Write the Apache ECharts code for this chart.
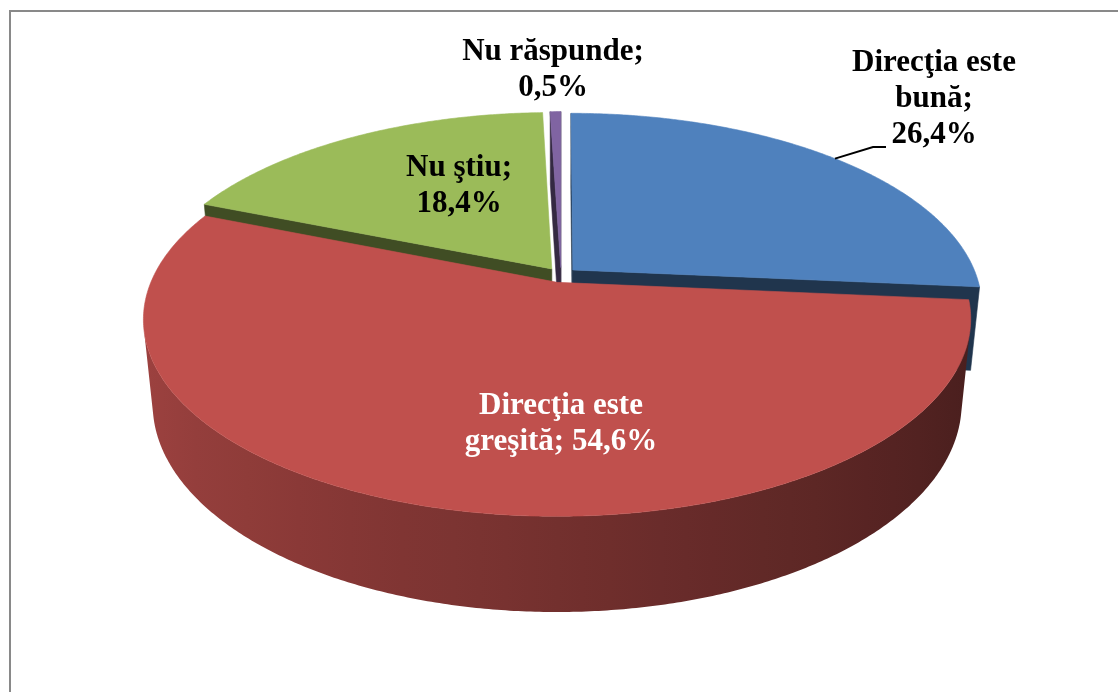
<!DOCTYPE html>
<html><head><meta charset="utf-8">
<script src="https://cdn.jsdelivr.net/npm/echarts@6/dist/echarts.min.js"></script>
<style>html,body{margin:0;padding:0;background:#fff}#c{width:1118px;height:692px}</style>
</head><body><div id="c"></div><script>
// ---- data ----
const categories = ['Direcţia este\nbună', 'Direcţia este\ngreşită', 'Nu ştiu', 'Nu răspunde'];
const separators = [';\n', '; ', ';\n', ';\n'];
const values = [26.4, 54.6, 18.4, 0.5];

// ---- style / layout ----
const colors = ['#4f81bd', '#c0504d', '#9bbb59', '#8064a2'];
const labelColors = ['#000', '#fff', '#000', '#000'];
const labelPos = [[934, 99], [561, 424], [459, 186], [553, 70]];
const leader = [true, false, false, false];
const V = { alpha: 27 * Math.PI / 180, f: 1982, sx: 0.977, D: 4.8, H: 0.23, e: 0.04, ox: 561, oy: 275 };

const total = values.reduce((a, b) => a + b, 0);
const starts = []; let acc = 0;
values.forEach(v => { starts.push(acc / total * 360); acc += v; });

function proj(X, Y, Z) {
  const sa = Math.sin(V.alpha), ca = Math.cos(V.alpha);
  const sv = Y * sa + Z * ca, d = Y * ca - Z * sa;
  const k = V.f / (V.D + d);
  return [V.ox + X * k * V.sx, V.oy - sv * k, d];
}
const cam = [0, -V.D * Math.cos(V.alpha), V.D * Math.sin(V.alpha)];
function shade(hex, k) {
  const n = parseInt(hex.slice(1), 16);
  const r = Math.round(((n >> 16) & 255) * k), g = Math.round(((n >> 8) & 255) * k), b = Math.round((n & 255) * k);
  return 'rgb(' + r + ',' + g + ',' + b + ')';
}
function fmt(v) { return v.toFixed(1).replace('.', ',') + '%'; }
const wallK = m => 0.6 - 0.22 * Math.sin(m);

function renderItem(params, api) {
  const i = params.dataIndex;
  const v = api.value(1);
  const t1 = starts[i] * Math.PI / 180;
  const t2 = t1 + v / total * 2 * Math.PI;
  const tm = (t1 + t2) / 2;
  const ex = V.e * Math.sin(tm), ey = V.e * Math.cos(tm);
  const H = V.H;
  const rim = (t, z) => [ex + Math.sin(t), ey + Math.cos(t), z];
  const children = [];
  function visible(n, P) {
    return n[0] * (cam[0] - P[0]) + n[1] * (cam[1] - P[1]) + n[2] * (cam[2] - P[2]) > 0;
  }
  function addPoly(pts3, fill, zz) {
    const pp = pts3.map(p => proj(p[0], p[1], p[2]));
    const dAvg = pp.reduce((s, p) => s + p[2], 0) / pp.length;
    children.push({
      type: 'polygon', shape: { points: pp.map(p => [p[0], p[1]]) },
      style: { fill: fill, stroke: typeof fill === 'string' ? fill : null, lineWidth: 0.6 },
      z2: zz != null ? zz : Math.round(500 - dAvg * 100)
    });
  }
  // outer wall: visible contiguous range as one polygon with gradient
  const steps = Math.max(2, Math.ceil((t2 - t1) / (Math.PI / 360)));
  const vis = [];
  for (let s = 0; s <= steps; s++) {
    const a = t1 + (t2 - t1) * s / steps;
    vis.push([a, visible([Math.sin(a), Math.cos(a), 0], rim(a, -H / 2))]);
  }
  let runs = [], cur = null;
  vis.forEach(([a, ok]) => {
    if (ok) { if (!cur) { cur = []; runs.push(cur); } cur.push(a); } else cur = null;
  });
  runs.forEach(run => {
    if (run.length < 2) return;
    const upper = run.map(a => rim(a, 0));
    const lower = run.slice().reverse().map(a => rim(a, -H));
    const pp = upper.concat(lower).map(p => proj(p[0], p[1], p[2]));
    const xs = pp.map(p => p[0]);
    const xmin = Math.min.apply(null, xs), xmax = Math.max.apply(null, xs);
    const stops = [];
    const n = 16;
    const samp = run.map(a => { const r = rim(a, 0); return [proj(r[0], r[1], 0)[0], wallK(a)]; });
    for (let s = 0; s <= n; s++) {
      const x = xmin + (xmax - xmin) * s / n;
      let best = samp[0];
      samp.forEach(q => { if (Math.abs(q[0] - x) < Math.abs(best[0] - x)) best = q; });
      stops.push({ offset: s / n, color: shade(colors[i], best[1]) });
    }
    const dAvg = pp.reduce((s, p) => s + p[2], 0) / pp.length;
    children.push({
      type: 'polygon', shape: { points: pp.map(p => [p[0], p[1]]) },
      style: { fill: { type: 'linear', x: xmin, y: 0, x2: xmax, y2: 0, global: true, colorStops: stops } },
      z2: Math.round(500 - dAvg * 100)
    });
  });
  // cut faces
  const c0 = [ex, ey, 0], c1 = [ex, ey, -H];
  const mid = t => { const r = rim(t, 0); return [(c0[0] + r[0]) / 2, (c0[1] + r[1]) / 2, -H / 2]; };
  if (visible([-Math.cos(t1), Math.sin(t1), 0], mid(t1)))
    addPoly([c0, rim(t1, 0), rim(t1, -H), c1], shade(colors[i], 0.41));
  if (visible([Math.cos(t2), -Math.sin(t2), 0], mid(t2)))
    addPoly([c0, rim(t2, 0), rim(t2, -H), c1], shade(colors[i], 0.41));
  // top face
  const top = [[ex, ey, 0]];
  const ts = Math.max(2, Math.ceil((t2 - t1) / (Math.PI / 360)));
  for (let s = 0; s <= ts; s++) top.push(rim(t1 + (t2 - t1) * s / ts, 0));
  addPoly(top, colors[i], 1000);
  // label
  const lp = labelPos[i];
  const txt = categories[i] + separators[i] + fmt(v);
  children.push({ type: 'text', z2: 2000,
    style: { text: txt, x: lp[0], y: lp[1], fill: labelColors[i], align: 'center', verticalAlign: 'middle',
      font: 'bold 31px "Liberation Serif", "Times New Roman", serif', lineHeight: 36 } });
  if (leader[i]) {
    const r = rim(tm, 0), p = proj(r[0], r[1], 0);
    children.push({ type: 'polyline', z2: 1500,
      shape: { points: [[p[0], p[1]], [lp[0] - 61, lp[1] + 48], [lp[0] - 48, lp[1] + 48]] },
      style: { stroke: '#000', lineWidth: 2, fill: null } });
  }
  return { type: 'group', children: children };
}

const chart = echarts.init(document.getElementById('c'));
chart.setOption({
  animation: false,
  backgroundColor: '#fff',
  graphic: [
    { type: 'polyline', shape: { points: [[10, 692], [10, 11], [1118, 11]] },
      style: { stroke: '#898989', lineWidth: 2, fill: null } }
  ],
  series: [{
    type: 'custom', coordinateSystem: 'none',
    data: values.map((v, i) => [i, v]),
    renderItem: renderItem
  }]
});
</script></body></html>
